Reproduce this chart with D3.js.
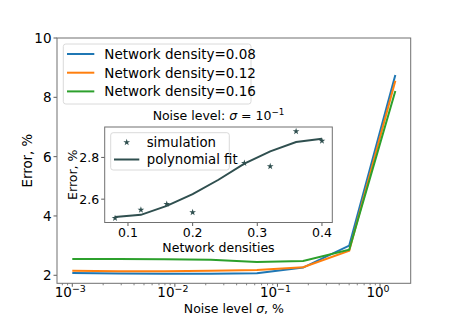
<!DOCTYPE html>
<html lang="en">
<head>
  <meta charset="UTF-8">
  <title>Error vs noise level</title>
  <style>
    body{ margin: 0; background: #fff; }
    svg{ font-family: "DejaVu Sans", sans-serif; }
  </style>
</head>
<body>
<svg width="456" height="319"></svg>

<script src="https://cdn.jsdelivr.net/npm/d3@7/dist/d3.min.js"></script>
<script>
  // data
  var noiseLevels = [0.001, 0.00282, 0.00794, 0.0224, 0.0631, 0.178, 0.501, 1.41];
  var densityNames = ['Network density=0.08', 'Network density=0.12', 'Network density=0.16'];
  var errD008 = [2.08, 2.06, 2.05, 2.05, 2.07, 2.26, 3.00, 8.75];
  var errD012 = [2.15, 2.14, 2.14, 2.15, 2.18, 2.27, 2.83, 8.56];
  var errD016 = [2.55, 2.55, 2.54, 2.52, 2.45, 2.48, 2.86, 8.21];
  var colors = ['#1f77b4', '#ff7f0e', '#2ca02c'];
  var yTicks = [2, 4, 6, 8, 10];
  var xTicks = [1e-3, 1e-2, 1e-1, 1e0];
  var xTickExp = ['\u22123', '\u22122', '\u22121', '0'];

  // inset
  var simDens = [0.08, 0.12, 0.16, 0.2, 0.28, 0.32, 0.36, 0.4];
  var simErr = [2.509, 2.549, 2.577, 2.537, 2.773, 2.757, 2.925, 2.879];
  var fitDens = [0.08, 0.12, 0.16, 0.2, 0.24, 0.28, 0.32, 0.36, 0.4];
  var fitErr = [2.515, 2.525, 2.568, 2.624, 2.693, 2.77, 2.829, 2.874, 2.89];
  var insetXTicks = [0.1, 0.2, 0.3, 0.4];
  var insetYTicks = [2.6, 2.8];

  var svg = d3.select('svg');
  var fs = 12.5, tickFs = 13.5, spine = '#707070', dark = '#2f4f4f';

  // main axes
  var L = 57, R = 410.7, T = 38, B = 283.3;
  var x = d3.scaleLog().domain([Math.pow(10, -3.149), Math.pow(10, 0.299)]).range([L, R]);
  var y = d3.scaleLinear().domain([1.73, 10]).range([B, T]);

  var g = svg.append('g');
  // minor ticks
  var minors = [];
  for (var e = -4; e <= 0; e++) for (var m = 2; m <= 9; m++) {
    var v = m * Math.pow(10, e);
    if (v > x.domain()[0] && v < x.domain()[1]) minors.push(v);
  }
  g.selectAll('.minor').data(minors).enter().append('line')
    .attr('x1', d => x(d)).attr('x2', d => x(d)).attr('y1', B).attr('y2', B + 2)
    .attr('stroke', '#333').attr('stroke-width', 0.6);
  g.selectAll('.xmaj').data(xTicks).enter().append('line')
    .attr('x1', d => x(d)).attr('x2', d => x(d)).attr('y1', B).attr('y2', B + 3.5)
    .attr('stroke', '#333').attr('stroke-width', 0.8);
  var xt = g.selectAll('.xlab').data(xTicks).enter().append('text')
    .attr('x', d => x(d) - 2).attr('y', B + 14).attr('text-anchor', 'middle')
    .attr('font-size', tickFs);
  xt.append('tspan').text('10');
  xt.append('tspan').attr('dy', -5.5).attr('font-size', tickFs * 0.7).text((d, i) => xTickExp[i]);

  g.selectAll('.ymaj').data(yTicks).enter().append('line')
    .attr('x1', L - 3.5).attr('x2', L).attr('y1', d => y(d)).attr('y2', d => y(d))
    .attr('stroke', '#333').attr('stroke-width', 0.8);
  g.selectAll('.ylab').data(yTicks).enter().append('text')
    .attr('x', L - 5.5).attr('y', d => y(d) + 5).attr('text-anchor', 'end')
    .attr('font-size', tickFs).text(d => d);

  // lines
  var series = [errD008, errD012, errD016];
  var line = d3.line().x((d, i) => x(noiseLevels[i])).y(d => y(d));
  series.forEach(function (s, k) {
    g.append('path').attr('d', line(s)).attr('fill', 'none')
      .attr('stroke', colors[k]).attr('stroke-width', 2);
  });

  g.append('rect').attr('x', L).attr('y', T).attr('width', R - L).attr('height', B - T)
    .attr('fill', 'none').attr('stroke', spine).attr('stroke-width', 1);

  // labels
  g.append('text').attr('x', (L + R) / 2).attr('y', 313).attr('text-anchor', 'middle')
    .attr('font-size', fs).html('Noise level <tspan font-style="italic">\u03c3</tspan>, %');
  g.append('text').attr('transform', `translate(31.5, ${(T + B) / 2}) rotate(-90)`)
    .attr('text-anchor', 'middle').attr('font-size', 13.3).text('Error, %');

  // legend
  var lg = g.append('g');
  lg.append('rect').attr('x', 63.3).attr('y', 44).attr('width', 187.7).attr('height', 60)
    .attr('rx', 2.5).attr('fill', '#fff').attr('fill-opacity', 0.8)
    .attr('stroke', '#d0d0d0').attr('stroke-width', 0.8);
  densityNames.forEach(function (n, k) {
    var cy = 54 + k * 18.7;
    lg.append('line').attr('x1', 67).attr('x2', 94.3).attr('y1', cy).attr('y2', cy)
      .attr('stroke', colors[k]).attr('stroke-width', 2);
    lg.append('text').attr('x', 104.3).attr('y', cy + 5).attr('font-size', 13.5).text(n);
  });

  // inset axes
  var iL = 104.7, iR = 332.3, iT = 127, iB = 222.5;
  var ix = d3.scaleLinear().domain([0.064, 0.416]).range([iL, iR]);
  var iy = d3.scaleLinear().domain([2.4882, 2.9458]).range([iB, iT]);
  var ig = svg.append('g');
  ig.append('rect').attr('x', iL).attr('y', iT).attr('width', iR - iL).attr('height', iB - iT)
    .attr('fill', '#fff');
  ig.selectAll('.ixt').data(insetXTicks).enter().append('line')
    .attr('x1', d => ix(d)).attr('x2', d => ix(d)).attr('y1', iB).attr('y2', iB + 3.5)
    .attr('stroke', '#333').attr('stroke-width', 0.8);
  ig.selectAll('.ixl').data(insetXTicks).enter().append('text')
    .attr('x', d => ix(d)).attr('y', iB + 14).attr('text-anchor', 'middle')
    .attr('font-size', fs).text(d => d.toFixed(1));
  ig.selectAll('.iyt').data(insetYTicks).enter().append('line')
    .attr('x1', iL - 3.5).attr('x2', iL).attr('y1', d => iy(d)).attr('y2', d => iy(d))
    .attr('stroke', '#333').attr('stroke-width', 0.8);
  ig.selectAll('.iyl').data(insetYTicks).enter().append('text')
    .attr('x', iL - 5.5).attr('y', d => iy(d) + 4.5).attr('text-anchor', 'end')
    .attr('font-size', fs).text(d => d.toFixed(1));

  ig.append('path')
    .attr('d', d3.line().x((d, i) => ix(fitDens[i])).y(d => iy(d))(fitErr))
    .attr('fill', 'none').attr('stroke', dark).attr('stroke-width', 2);
  var star = d3.symbol().type(d3.symbolStar).size(14);
  ig.selectAll('.sim').data(simErr).enter().append('path')
    .attr('d', star).attr('fill', dark)
    .attr('transform', (d, i) => `translate(${ix(simDens[i])}, ${iy(d)})`);

  ig.append('rect').attr('x', iL).attr('y', iT).attr('width', iR - iL).attr('height', iB - iT)
    .attr('fill', 'none').attr('stroke', spine).attr('stroke-width', 1);

  ig.append('text').attr('x', (iL + iR) / 2).attr('y', 120).attr('text-anchor', 'middle')
    .attr('font-size', fs)
    .html('Noise level: <tspan font-style="italic">\u03c3</tspan> = 10<tspan dy="-5" font-size="8.75">\u22121</tspan>');
  ig.append('text').attr('x', (iL + iR) / 2).attr('y', 252).attr('text-anchor', 'middle')
    .attr('font-size', fs).text('Network densities');
  ig.append('text').attr('transform', `translate(77, ${(iT + iB) / 2}) rotate(-90)`)
    .attr('text-anchor', 'middle').attr('font-size', fs).text('Error, %');

  // inset legend
  ig.append('rect').attr('x', 110.7).attr('y', 132.7).attr('width', 118.6).attr('height', 37.3)
    .attr('rx', 2.5).attr('fill', '#fff').attr('fill-opacity', 0.8)
    .attr('stroke', '#d0d0d0').attr('stroke-width', 0.8);
  ig.append('path').attr('d', star).attr('fill', dark).attr('transform', 'translate(126.7, 142.3)');
  ig.append('text').attr('x', 146.7).attr('y', 147).attr('font-size', 13.3).text('simulation');
  ig.append('line').attr('x1', 114).attr('x2', 139.3).attr('y1', 159.5).attr('y2', 159.5)
    .attr('stroke', dark).attr('stroke-width', 2);
  ig.append('text').attr('x', 146.7).attr('y', 164.3).attr('font-size', 13.3).text('polynomial fit');
</script>
</body>
</html>
